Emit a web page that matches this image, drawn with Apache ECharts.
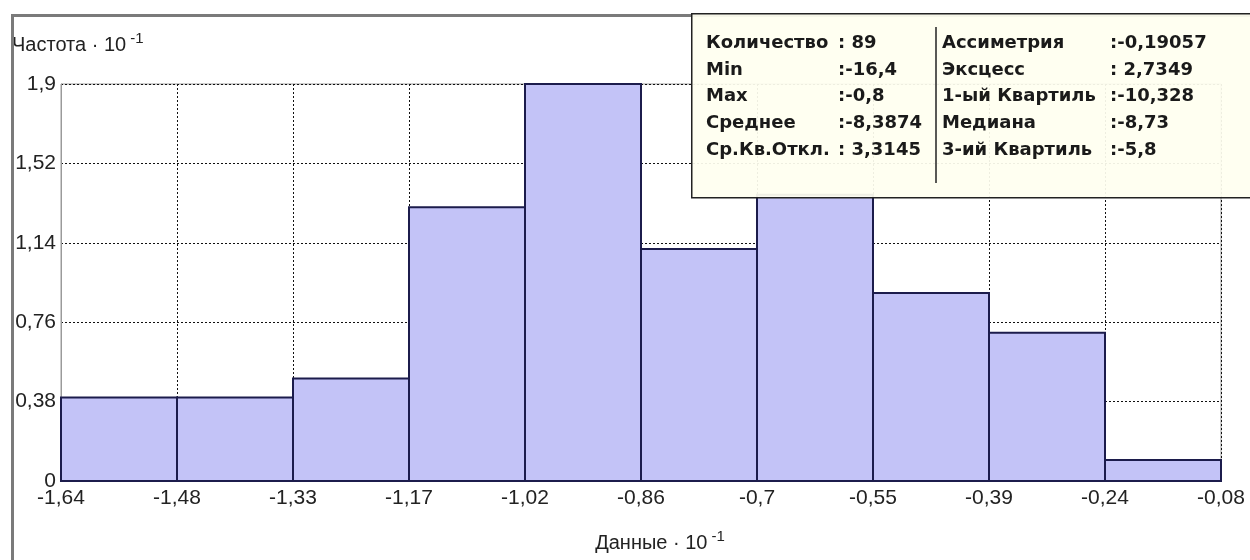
<!DOCTYPE html>
<html>
<head>
<meta charset="utf-8">
<script src="https://cdn.jsdelivr.net/npm/echarts@6/dist/echarts.min.js"></script>
<style>
  html, body { margin: 0; padding: 0; background: #fff; }
  #chart { width: 1250px; height: 560px; }
</style>
</head>
<body>
<div id="chart"></div>
<script>
// bins (index 0..9), heights in units of 10^-1
var binValues = [0.40, 0.40, 0.49, 1.31, 1.90, 1.11, 1.37, 0.90, 0.71, 0.10];
var xTickLabels = ['-1,64', '-1,48', '-1,33', '-1,17', '-1,02', '-0,86', '-0,7', '-0,55', '-0,39', '-0,24', '-0,08'];
var yTickLabels = ['0', '0,38', '0,76', '1,14', '1,52', '1,9'];

var statsLeftNames = ['Количество', 'Min', 'Max', 'Среднее', 'Ср.Кв.Откл.'];
var statsLeftValues = [': 89', ':-16,4', ':-0,8', ':-8,3874', ': 3,3145'];
var statsRightNames = ['Ассиметрия', 'Эксцесс', '1-ый Квартиль', 'Медиана', '3-ий Квартиль'];
var statsRightValues = [':-0,19057', ': 2,7349', ':-10,328', ':-8,73', ':-5,8'];

var chart = echarts.init(document.getElementById('chart'));

var histData = binValues.map(function (v, i) { return [i, v]; });

var statFont = 'bold 18px "DejaVu Sans", Tahoma, sans-serif';
var statText = [];
var rowY = [45, 72, 98, 125, 152];
for (var i = 0; i < 5; i++) {
    statText.push({ type: 'text', left: 706, top: rowY[i] - 11, z: 101,
        style: { text: statsLeftNames[i], font: statFont, fill: '#1a1a1a' } });
    statText.push({ type: 'text', left: 838, top: rowY[i] - 11, z: 101,
        style: { text: statsLeftValues[i], font: statFont, fill: '#1a1a1a' } });
    statText.push({ type: 'text', left: 942, top: rowY[i] - 11, z: 101,
        style: { text: statsRightNames[i], font: statFont, fill: '#1a1a1a' } });
    statText.push({ type: 'text', left: 1110, top: rowY[i] - 11, z: 101,
        style: { text: statsRightValues[i], font: statFont, fill: '#1a1a1a' } });
}

var nameRich = {
    n: { fontFamily: 'Liberation Sans', fontSize: 20, color: '#222' },
    s: { fontFamily: 'Liberation Sans', fontSize: 15, color: '#222', verticalAlign: 'top', padding: [0, 0, 14, 4] }
};

var option = {
    backgroundColor: '#fff',
    animation: false,
    grid: {
        left: 61, right: 29, top: 84, bottom: 79,
        show: true, borderColor: '#9a9a9a', borderWidth: 1
    },
    xAxis: {
        type: 'value',
        min: 0, max: 10, interval: 1,
        name: '{n|Данные · 10}{s|-1}',
        nameLocation: 'middle',
        nameGap: 48,
        nameTextStyle: { padding: [0, 0, 0, 38], rich: nameRich },
        axisLine: { show: true, lineStyle: { color: '#1c1c4c', width: 2 } },
        axisTick: { show: false },
        axisLabel: {
            fontFamily: 'Liberation Sans', fontSize: 21, color: '#222', margin: 7,
            formatter: function (v) { return xTickLabels[Math.round(v)]; }
        },
        splitLine: { show: true, lineStyle: { color: '#111', type: [2, 2], width: 1 } }
    },
    yAxis: {
        type: 'value',
        min: 0, max: 1.9, interval: 0.38,
        name: '{n|Частота · 10}{s|-1}',
        nameLocation: 'end',
        nameGap: 24,
        nameTextStyle: { align: 'left', padding: [0, 0, 0, -49], rich: nameRich },
        axisLine: { show: true, lineStyle: { color: '#9a9a9a', width: 1 } },
        axisTick: { show: false },
        axisLabel: {
            fontFamily: 'Liberation Sans', fontSize: 21, color: '#222', margin: 5,
            formatter: function (v) { return yTickLabels[Math.round(v / 0.38)]; }
        },
        splitLine: { show: true, lineStyle: { color: '#111', type: [2, 2], width: 1 } }
    },
    series: [{
        type: 'custom',
        data: histData,
        encode: { x: 0, y: 1 },
        renderItem: function (params, api) {
            var idx = api.value(0);
            var val = api.value(1);
            var p0 = api.coord([idx, 0]);
            var p1 = api.coord([idx + 1, val]);
            return {
                type: 'rect',
                shape: { x: p0[0], y: p1[1], width: p1[0] - p0[0], height: p0[1] - p1[1] },
                style: { fill: '#c3c3f7', stroke: '#1c1c4c', lineWidth: 2 }
            };
        }
    }],
    graphic: [
        // outer frame
        { type: 'rect', left: 10, top: 13, z: 90, silent: true,
          shape: { width: 1260, height: 600 },
          style: { fill: 'none', stroke: '#7a7a7a', lineWidth: 3 } },
        // statistics box
        { type: 'rect', left: 691, top: 13, z: 100, silent: true,
          shape: { width: 580, height: 184 },
          style: { fill: 'rgba(255,255,240,0.93)', stroke: '#222', lineWidth: 1.5 } },
        { type: 'line', z: 101, silent: true,
          shape: { x1: 936, y1: 27, x2: 936, y2: 183 },
          style: { stroke: '#222', lineWidth: 1.5 } }
    ].concat(statText)
};

chart.setOption(option);
</script>
</body>
</html>
